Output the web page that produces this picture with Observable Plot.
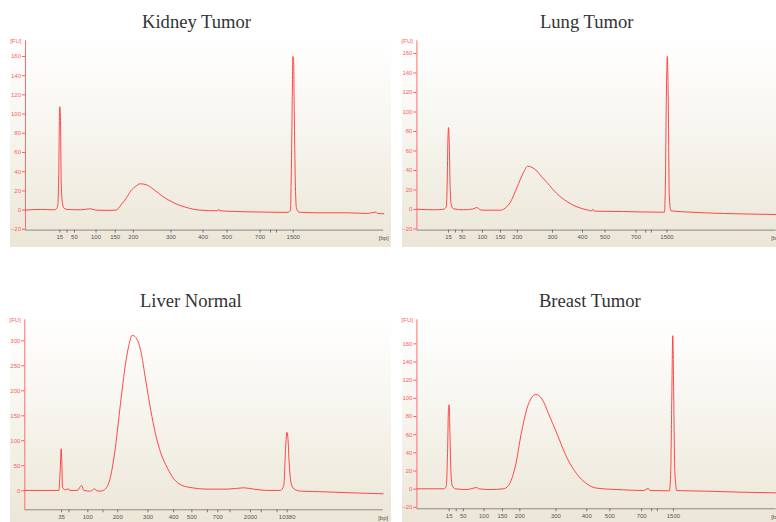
<!DOCTYPE html>
<html>
<head>
<meta charset="utf-8">
<script src="https://cdn.jsdelivr.net/npm/d3@7"></script>
<script src="https://cdn.jsdelivr.net/npm/@observablehq/plot@0.6"></script>
<style>
  body { margin: 0; width: 776px; height: 522px; overflow: hidden; background: #fff; position: relative; }
  .panel { position: absolute; background: linear-gradient(to bottom, #ffffff 0%, #f7f5ef 45%, #ebe6d7 100%); }
  .title { position: absolute; font: 18.6px "Liberation Serif", serif; line-height: 18.6px; color: #333; transform: translateX(-50%); white-space: nowrap; }
</style>
</head>
<body>
<div id="charts"></div>
<script>
// migration time (s) -> FU
const kidney = [[33.15,0],[37.5,0.7],[41.3,0.3],[42.05,1.4],[42.44,5.6],[42.72,44],[42.91,103],[43.01,107.6],[43.2,93],[43.39,30.5],[43.68,9.7],[44.16,2.1],[45.1,0.7],[48.9,0.3],[51.8,1.4],[53.3,0],[56.6,-0.3],[59.2,0],[60.6,5.6],[62.0,12],[63.4,20],[64.9,25],[66.0,27.4],[67.9,26.4],[69.8,21.9],[72.7,13.9],[75.5,8],[79.3,2.8],[83.1,0],[88.3,-0.7],[88.6,0.8],[88.9,-0.7],[92.9,-1.4],[102.5,-2.1],[108.2,-2.4],[109.2,-0.7],[109.4,27],[109.7,107],[109.9,160],[110.1,158],[110.3,103],[110.6,30.5],[110.9,2.8],[111.6,-2.1],[116.8,-2.8],[125.5,-2.8],[131.3,-3.5],[133.7,-2.1],[134.2,-3.5],[136.0,-3.8]];
const lung = [[33.3,0.3],[38.4,-0.3],[41.5,0.3],[42.3,2.7],[42.6,29],[42.8,70],[43.0,84],[43.2,70],[43.5,22.6],[43.8,5.5],[44.5,0.7],[47.6,-0.3],[50.7,0.7],[51.7,2.1],[52.2,1],[53.2,-0.7],[59.0,-0.7],[59.9,0.3],[61.9,7.2],[64.0,22.6],[66.0,38],[67.3,44.4],[68.6,43.2],[70.1,39.5],[71.6,33.5],[73.2,27.7],[76.2,16.4],[79.3,8.2],[82.4,2.7],[85.4,-0.3],[86.9,-1.4],[87.3,0.2],[87.7,-1.7],[96.7,-2.1],[106.9,-2.7],[109.2,-2.7],[109.5,22.6],[109.8,111],[110.1,157],[110.4,111],[110.7,15.7],[111.2,-1.4],[117.2,-2.7],[127.4,-4.1],[137.6,-4.8],[143.5,-5.1]];
const liver = [[32.1,0.7],[37.8,0.7],[42.2,0.7],[42.6,40],[42.9,84],[43.1,54],[43.3,6],[44.2,2],[45.0,4],[45.5,0.7],[47.7,0.7],[48.6,8.7],[49.0,10.7],[49.6,0.7],[51.6,-0.7],[52.9,4],[53.4,0],[54.6,-0.7],[56.1,4],[57.5,27],[59.0,87],[60.5,174],[62.0,254],[63.0,291],[64.0,311],[65.0,307],[66.5,281],[68.0,221],[69.5,161],[70.9,114],[72.4,77],[74.4,46],[76.3,24],[78.8,10.7],[81.8,6],[86.2,3.3],[92.2,3.3],[97.1,6],[100.1,3.3],[104.1,0.7],[108.0,0.7],[109.0,10.7],[109.5,81],[109.9,117],[110.2,107],[110.6,54],[111.2,14],[112.0,4],[114.0,-0.7],[120.9,-2],[128.8,-4],[138.5,-6]];
const breast = [[33.35,0.4],[41.3,0.4],[42.1,2.9],[42.5,39],[42.8,90],[43.0,93],[43.2,64.6],[43.5,20.6],[43.9,4],[44.8,0.4],[48.3,-0.4],[51.3,1.8],[51.8,0.4],[55.2,-0.4],[59.2,0.4],[60.7,4],[62.7,24.2],[64.7,64.6],[66.7,94],[68.9,104.2],[70.7,99.4],[72.7,83],[75.2,61],[78.1,35.2],[81.1,16.9],[84.1,5.9],[87.1,1.1],[95.1,-0.7],[101.0,-1.5],[102.5,0.7],[103.0,-1.5],[108.8,-1.8],[109.2,20.6],[109.5,97.6],[109.8,169],[110.1,97.6],[110.4,20.6],[111.0,-1.5],[120.0,-2.2],[129.9,-3.3],[140.7,-4]];

// ladder ticks (migration time -> bp label)
const dnaTicks = [43.0, 45.1, 47.2, 53.4, 58.9, 64.1, 74.9, 84.1, 91.0, 100.5, 103.5, 105.2, 110.0];
const dnaLabels = ["15", "", "50", "100", "150", "200", "300", "400", "500", "700", "", "", "1500"];
const hsTicks = [43.0, 45.2, 50.8, 55.3, 59.7, 68.7, 76.3, 81.7, 86.3, 89.4, 93.0, 99.1, 102.3, 107.0, 110.0];
const hsLabels = ["35", "", "100", "", "200", "300", "400", "500", "", "700", "", "2000", "", "", "10380"];
const fuTicks = [-20, 0, 20, 40, 60, 80, 100, 120, 140, 160];
const fuTicksLiver = [0, 50, 100, 150, 200, 250, 300];

const titles = ["Kidney Tumor", "Lung Tumor", "Liver Normal", "Breast Tumor"];

const panels = [
  {title: titles[0], data: kidney, ticks: dnaTicks, labels: dnaLabels, yTicks: fuTicks,
   xDomain: [33.15, 136.0], yDomain: [-20.8, 176.3],
   box: [10, 36.7, 380.7, 210], m: [3.3, 7.4, 17.4, 15], tx: 196.5, ty: 13.4},
  {title: titles[1], data: lung, ticks: dnaTicks, labels: dnaLabels, yTicks: fuTicks,
   xDomain: [33.3, 143.5], yDomain: [-21.1, 173],
   box: [402.3, 36.7, 373.7, 210], m: [3.3, 0, 17.4, 14.4], tx: 586.7, ty: 12.7},
  {title: titles[2], data: liver, ticks: hsTicks, labels: hsLabels, yTicks: fuTicksLiver,
   xDomain: [32.1, 138.5], yDomain: [-38, 342],
   box: [10, 315, 380.7, 207], m: [4.3, 8, 12.7, 14.3], tx: 190.8, ty: 291.7},
  {title: titles[3], data: breast, ticks: dnaTicks, labels: dnaLabels, yTicks: fuTicks,
   xDomain: [33.35, 140.7], yDomain: [-21.6, 186.5],
   box: [402.3, 315, 373.7, 207], m: [4.3, 0, 13.7, 14.4], tx: 589.8, ty: 291.7}
];

const root = d3.select('#charts');

panels.forEach(p => {
  const [left, top, w, h] = p.box;
  const labelOf = new Map(p.ticks.map((t, i) => [t, p.labels[i]]));

  const chart = Plot.plot({
    width: w,
    height: h,
    marginTop: p.m[0],
    marginRight: p.m[1],
    marginBottom: p.m[2],
    marginLeft: p.m[3],
    x: {domain: p.xDomain, label: null},
    y: {domain: p.yDomain, label: null},
    style: {background: 'transparent', fontFamily: '"Liberation Sans", sans-serif', fontSize: '6px', overflow: 'visible'},
    marks: [
      Plot.ruleY([p.yDomain[0]], {stroke: '#8a8a8a', strokeWidth: 1}),
      Plot.ruleX([p.xDomain[0]], {stroke: '#ff6b6b', strokeWidth: 1}),
      Plot.axisY({ticks: p.yTicks, tickSize: 3, tickPadding: 1.5, color: '#ff5c5c', label: null}),
      Plot.axisX({ticks: p.ticks, tickFormat: d => labelOf.get(d), tickSize: 3, tickPadding: 1.5,
                  stroke: '#777', fill: '#555', label: null}),
      Plot.text(['[FU]'], {x: p.xDomain[0], y: p.yDomain[1], text: d => d, textAnchor: 'end', dx: -4, fill: '#ff5c5c'}),
      Plot.text(['[bp]'], {x: p.xDomain[1], y: p.yDomain[0], text: d => d, textAnchor: 'middle', dy: 8, fill: '#555'}),
      Plot.line(p.data, {x: d => d[0], y: d => d[1], stroke: '#ff3434', strokeWidth: 0.9, curve: 'monotone-x'})
    ]
  });

  const div = root.append('div').attr('class', 'panel')
    .style('left', left + 'px').style('top', top + 'px')
    .style('width', w + 'px').style('height', h + 'px');
  div.append(() => chart);

  root.append('div').attr('class', 'title')
    .style('left', p.tx + 'px').style('top', p.ty + 'px')
    .text(p.title);
});
</script>
</body>
</html>
